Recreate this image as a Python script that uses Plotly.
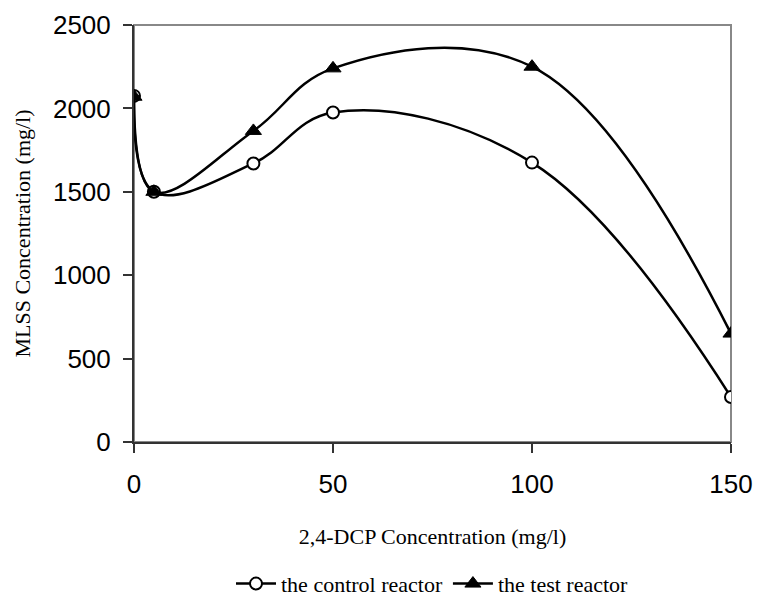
import plotly.graph_objects as go

# 2,4-DCP dose (mg/l) and MLSS readings (mg/l) for the two reactors
dcp = [0, 5, 30, 50, 100, 150]
control_mlss = [2075, 1500, 1670, 1975, 1675, 270]
test_mlss = [2070, 1500, 1865, 2240, 2250, 650]

x_ticks = [0, 50, 100, 150]
y_ticks = [0, 500, 1000, 1500, 2000, 2500]

fig = go.Figure()
fig.add_trace(go.Scatter(
    x=dcp, y=control_mlss, name="the control reactor",
    mode="lines+markers", line=dict(color="black", width=2.5, shape="spline", smoothing=1.1),
    marker=dict(symbol="circle", size=12, color="white", line=dict(color="black", width=2)),
))
fig.add_trace(go.Scatter(
    x=dcp, y=test_mlss, name="the test reactor",
    mode="lines+markers", line=dict(color="black", width=2.5, shape="spline", smoothing=1.1),
    marker=dict(symbol="triangle-up", size=14, color="black", line=dict(color="black", width=1)),
))

# gray frame on top/right of the plotting area
fig.add_shape(type="rect", xref="paper", yref="paper", x0=0, y0=0, x1=1, y1=1,
              line=dict(color="#888888", width=2), layer="below")

tick_font = dict(family="Liberation Sans, Arial, sans-serif", size=26, color="black")
title_font = dict(family="Liberation Serif, Times New Roman, serif", size=22, color="black")

fig.update_layout(
    width=757, height=600,
    margin=dict(l=134, r=26, t=25, b=158, autoexpand=False),
    paper_bgcolor="white", plot_bgcolor="white",
    showlegend=True,
    legend=dict(orientation="h", x=0.5, xanchor="center", y=-0.34, yanchor="middle",
                font=dict(family="Liberation Serif, Times New Roman, serif", size=22, color="black"),
                itemwidth=40),
    xaxis=dict(range=[0, 150], tickvals=x_ticks, showgrid=False, zeroline=False,
               showline=True, linecolor="#333333", linewidth=2,
               ticks="outside", ticklen=9, tickcolor="#333333", tickwidth=1.5,
               tickfont=tick_font, ticklabelstandoff=9,
               title=dict(text="2,4-DCP Concentration (mg/l)", font=title_font, standoff=30)),
    yaxis=dict(range=[0, 2500], tickvals=y_ticks, showgrid=False, zeroline=False,
               showline=True, linecolor="#333333", linewidth=2,
               ticks="outside", ticklen=9, tickcolor="#333333", tickwidth=1.5,
               tickfont=tick_font, ticklabelstandoff=7,
               title=dict(text="MLSS Concentration (mg/l)", font=title_font, standoff=16)),
)

fig.write_html("out.html")
